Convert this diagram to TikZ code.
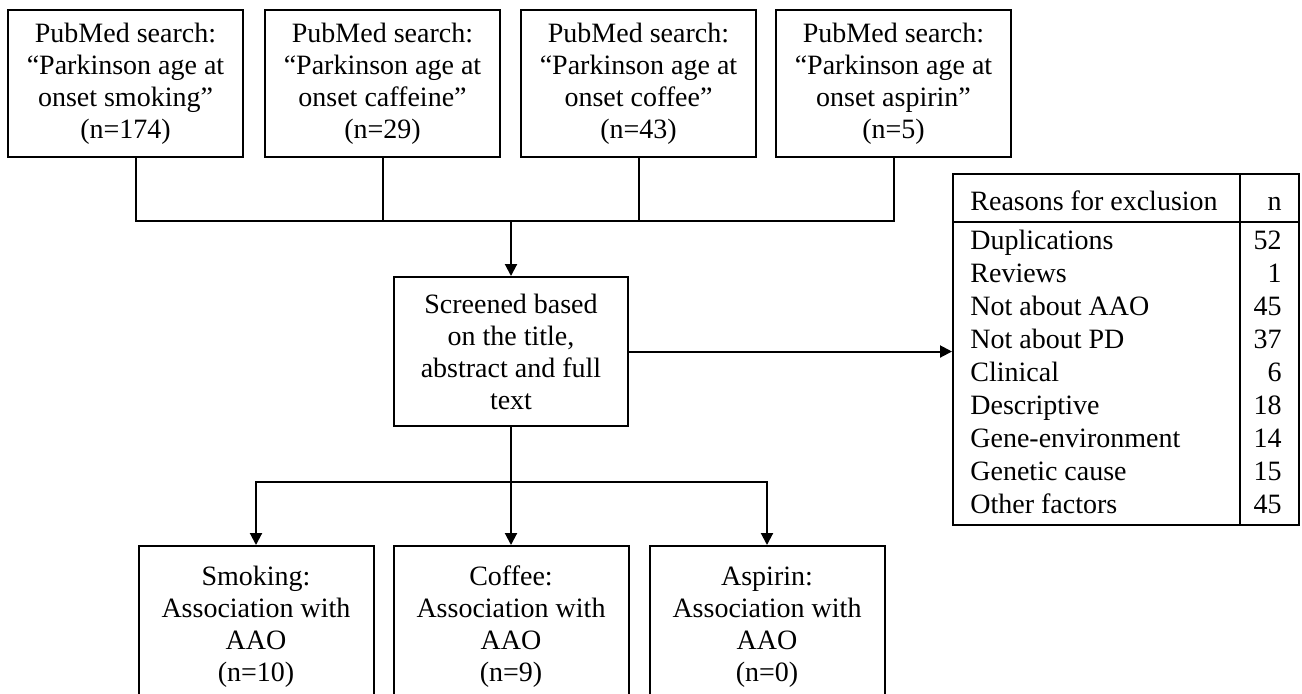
\documentclass[tikz,border=0pt]{standalone}
\usepackage{fontspec}
\setmainfont{Liberation Serif}
\usetikzlibrary{arrows.meta}

\tikzset{
  box/.style={draw, line width=1pt, align=center, inner sep=0pt,
    minimum width=117.5pt},
  link/.style={line width=1pt},
  arrow/.style={line width=1pt, -{Triangle[length=6pt,width=6pt]}},
  cell/.style={inner sep=0pt, text height=10pt, text depth=3pt},
}

\begin{document}
\begin{tikzpicture}[x=0.5pt, y=-0.5pt, font=\fontsize{14}{16}\selectfont]

\useasboundingbox (0,0) rectangle (1302,693);

% Searches
\node [box,
    minimum height=73.5pt] (S1) at (125.5,83.5)
    {PubMed search:\\“Parkinson age at\\onset smoking”\\(n=174)};
\node [box,
    minimum height=73.5pt] (S2) at (382.5,83.5)
    {PubMed search:\\“Parkinson age at\\onset caffeine”\\(n=29)};
\node [box,
    minimum height=73.5pt] (S3) at (638.5,83.5)
    {PubMed search:\\“Parkinson age at\\onset coffee”\\(n=43)};
\node [box,
    minimum height=73.5pt] (S4) at (893.5,83.5)
    {PubMed search:\\“Parkinson age at\\onset aspirin”\\(n=5)};

% Screening
\node [box,
    minimum width=117pt,
    minimum height=74.5pt] (Scr) at (511,351.5)
    {Screened based\\on the title,\\abstract and full\\text};

% Results
\node [box, minimum height=81pt] (B1) at (256,627)
    {Smoking:\\Association with\\AAO\\(n=10)};
\node [box, minimum height=81pt] (B2) at (511,627)
    {Coffee:\\Association with\\AAO\\(n=9)};
\node [box, minimum height=81pt] (B3) at (767,627)
    {Aspirin:\\Association with\\AAO\\(n=0)};

% Exclusion table
\node [draw,
    line width=1pt,
    inner sep=0pt,
    minimum width=173pt,
    minimum height=175.5pt] (Excl) at (1126,349.5) {};
\draw [link] (Excl.west |- 0,222) -- (Excl.east |- 0,222);
\draw [link] (Excl.north -| 1240,0) -- (Excl.south -| 1240,0);

\node [cell, anchor=west] (Head) at (970,203) {Reasons for exclusion};
\node [cell, anchor=east] (HeadN) at (1282,203) {n};
\foreach \rsn/\nmb [count=\i from 0] in {Duplications/52, Reviews/1,
    Not about AAO/45, Not about PD/37, Clinical/6, Descriptive/18,
    Gene-environment/14, Genetic cause/15, Other factors/45}
{
  \node [cell, anchor=west] (R\i) at (970,{242+33*\i}) {\rsn};
  \node [cell, anchor=east] (N\i) at (1282,{242+33*\i}) {\nmb};
}

% Connectors
\coordinate (J) at (511,221);
\coordinate (K) at (511,482);
\draw [link] ([xshift=5.25pt]S1.south) |- (J) -| (S4.south);
\draw [link] (S2.south) -- (S2.south |- J);
\draw [link] (S3.south) -- (S3.south |- J);
\draw [arrow] (J) -- (Scr.north);
\draw [arrow] (Scr.east) -- (Scr.east -| Excl.west);
\draw [link] (Scr.south) -- (K);
\draw [arrow] (K) -| (B1.north);
\draw [arrow] (K) -- (B2.north);
\draw [arrow] (K) -| (B3.north);

\end{tikzpicture}
\end{document}
